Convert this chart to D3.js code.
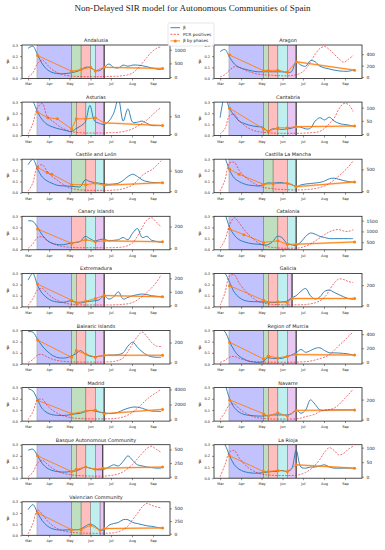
<!DOCTYPE html>
<html>
<head>
<meta charset="utf-8">
<script src="https://cdn.jsdelivr.net/npm/d3@7"></script>
<style>
  body { margin: 0; background: #fff; }
  svg { display: block; }
  text { font-family: "DejaVu Sans", sans-serif; fill: #222; }
</style>
</head>
<body>
<svg id="chart" width="385" height="550"></svg>
<script>
// weekly sample dates shared by every region
const dates = ["2020-03-01","2020-03-08","2020-03-15","2020-03-22","2020-03-29","2020-04-05","2020-04-12",
  "2020-04-19","2020-04-26","2020-05-03","2020-05-10","2020-05-17","2020-05-24","2020-05-31","2020-06-07",
  "2020-06-14","2020-06-21","2020-06-28","2020-07-05","2020-07-12","2020-07-19","2020-07-26","2020-08-02",
  "2020-08-09","2020-08-16","2020-08-23","2020-08-30","2020-09-06","2020-09-13"];

const alarmStart = "2020-03-14";
// phase starts: [phase 0 (green), phase 1 (red), phase 2 (cyan), phase 3 (purple), end of alarm]

// Andalusia
const beta_andalusia = [0.27,0.29,0.21,0.13,0.08,0.055,0.045,0.042,0.045,0.05,0.06,0.075,0.1,0.1,0.075,0.07,0.1,0.13,0.1,0.095,0.12,0.11,0.12,0.12,0.115,0.105,0.095,0.085,0.08];
const pcr_andalusia = [0,150,500,620,450,280,170,100,60,35,20,15,10,10,10,10,15,20,25,30,50,80,150,300,500,720,920,1050,1120];
const phases_andalusia = ["2020-05-04","2020-05-18","2020-06-01","2020-06-08","2020-06-21"];
const byPhase_andalusia = [["2020-03-15",0.206],["2020-05-04",0.065],["2020-05-18",0.08],["2020-06-01",0.1],["2020-06-08",0.067],["2020-06-21",0.1],["2020-09-15",0.09]];
const ticks_andalusia = [0,500,1000];

// Aragon
const beta_aragon = [0.24,0.26,0.19,0.13,0.1,0.085,0.075,0.065,0.06,0.06,0.06,0.06,0.06,0.06,0.055,0.06,0.15,0.12,0.11,0.16,0.15,0.11,0.095,0.085,0.075,0.068,0.065,0.065,0.075];
const pcr_aragon = [0,40,120,180,170,130,95,70,50,40,35,30,25,20,20,25,40,70,140,260,400,500,535,480,400,320,260,310,380];
const phases_aragon = ["2020-05-04","2020-05-11","2020-05-25","2020-06-08","2020-06-21"];
const byPhase_aragon = [["2020-03-15",0.21],["2020-05-04",0.07],["2020-05-11",0.072],["2020-05-25",0.075],["2020-06-08",0.055],["2020-06-21",0.15],["2020-09-15",0.075]];
const ticks_aragon = [0,200,400];

// Asturias
const beta_asturias = [0.36,0.31,0.21,0.14,0.1,0.08,0.065,0.055,0.045,0.035,0.06,0.085,0.12,0.27,0.13,0.11,0.1,0.13,0.2,0.33,0.13,0.24,0.12,0.12,0.13,0.11,0.09,0.09,0.09];
const pcr_asturias = [0,30,75,86,50,38,28,18,12,7,5,4,3,3,3,3,3,4,4,5,7,10,15,22,30,40,52,65,75];
const phases_asturias = ["2020-05-04","2020-05-11","2020-05-25","2020-06-08","2020-06-21"];
const byPhase_asturias = [["2020-03-15",0.21],["2020-03-30",0.16],["2020-04-13",0.15],["2020-05-04",0.06],["2020-05-11",0.15],["2020-05-25",0.15],["2020-06-08",0.16],["2020-06-21",0.114],["2020-09-15",0.09]];
const ticks_asturias = [0,50];

// Cantabria
const beta_cantabria = [0.16,0.35,0.24,0.18,0.13,0.11,0.095,0.085,0.08,0.075,0.04,0.06,0.06,0.055,0.06,0.065,0.08,0.075,0.06,0.065,0.13,0.16,0.14,0.165,0.13,0.11,0.1,0.095,0.085];
const pcr_cantabria = [0,20,70,75,50,35,22,14,9,7,5,4,3,3,3,3,3,3,4,5,6,10,22,40,60,95,115,112,85];
const phases_cantabria = ["2020-05-04","2020-05-11","2020-05-25","2020-06-08","2020-06-21"];
const byPhase_cantabria = [["2020-03-15",0.245],["2020-05-04",0.06],["2020-05-11",0.04],["2020-05-25",0.07],["2020-06-08",0.07],["2020-06-21",0.08],["2020-09-15",0.085]];
const ticks_cantabria = [0,50,100];

// Castile and León
const beta_cyl = [0.25,0.3,0.21,0.14,0.105,0.085,0.068,0.062,0.06,0.057,0.054,0.054,0.115,0.1,0.09,0.085,0.078,0.075,0.078,0.085,0.11,0.145,0.165,0.145,0.115,0.1,0.092,0.09,0.09];
const pcr_cyl = [0,200,600,640,480,360,280,190,120,70,45,30,25,20,20,20,20,20,25,35,60,100,150,260,380,460,520,620,740];
const phases_cyl = ["2020-05-04","2020-05-25","2020-06-08",null,"2020-06-21"];
const byPhase_cyl = [["2020-03-15",0.225],["2020-03-29",0.18],["2020-04-05",0.165],["2020-05-04",0.072],["2020-05-25",0.072],["2020-06-08",0.084],["2020-06-21",0.066],["2020-09-15",0.09]];
const ticks_cyl = [0,500];

// Castilla La Mancha
const beta_clm = [0.36,0.31,0.2,0.13,0.1,0.08,0.068,0.064,0.06,0.07,0.088,0.085,0.09,0.09,0.082,0.075,0.055,0.07,0.078,0.082,0.087,0.092,0.105,0.125,0.13,0.12,0.108,0.1,0.095];
const pcr_clm = [0,250,650,660,480,350,260,190,130,90,70,55,45,40,35,30,30,30,35,45,60,85,120,180,260,350,450,560,700];
const phases_clm = ["2020-05-04","2020-05-18","2020-06-08",null,"2020-06-21"];
const byPhase_clm = [["2020-03-15",0.21],["2020-03-29",0.165],["2020-05-04",0.075],["2020-05-18",0.081],["2020-06-08",0.084],["2020-06-21",0.054],["2020-09-15",0.096]];
const ticks_clm = [0,500];

// Canary Islands
const beta_canary = [0.26,0.255,0.2,0.13,0.085,0.06,0.048,0.045,0.05,0.06,0.066,0.075,0.12,0.1,0.08,0.09,0.095,0.08,0.085,0.09,0.11,0.09,0.15,0.19,0.11,0.12,0.085,0.075,0.065];
const pcr_canary = [0,40,100,105,70,45,30,18,12,8,6,5,5,5,5,5,5,5,6,8,12,25,50,110,190,260,280,240,195];
const phases_canary = [null,"2020-05-04","2020-05-25","2020-06-08","2020-06-21"];
const byPhase_canary = [["2020-03-15",0.186],["2020-05-04",0.057],["2020-05-25",0.09],["2020-06-08",0.072],["2020-06-21",0.08],["2020-09-15",0.072]];
const ticks_canary = [0,200];

// Catalonia
const beta_catalonia = [0.38,0.32,0.2,0.13,0.09,0.072,0.06,0.053,0.05,0.045,0.045,0.07,0.12,0.11,0.06,0.045,0.04,0.07,0.12,0.15,0.14,0.12,0.11,0.1,0.1,0.1,0.1,0.1,0.1];
const pcr_catalonia = [230,600,1300,1630,1400,1100,850,650,480,380,300,260,240,225,220,220,225,250,320,420,560,700,850,980,1060,1090,1020,1000,1080];
const phases_catalonia = ["2020-05-04","2020-05-25","2020-06-08",null,"2020-06-21"];
const byPhase_catalonia = [["2020-03-15",0.186],["2020-04-05",0.135],["2020-05-04",0.066],["2020-05-25",0.08],["2020-06-08",0.05],["2020-06-21",0.05],["2020-09-15",0.07]];
const ticks_catalonia = [500,1000,1500];

// Extremadura
const beta_extremadura = [0.24,0.3,0.19,0.12,0.08,0.055,0.045,0.04,0.045,0.055,0.04,0.035,0.045,0.05,0.055,0.065,0.1,0.07,0.09,0.135,0.07,0.085,0.1,0.11,0.115,0.11,0.1,0.095,0.09];
const pcr_extremadura = [0,50,115,125,90,60,40,25,15,8,5,4,3,3,3,3,3,3,4,5,8,12,22,40,65,95,130,170,225];
const phases_extremadura = ["2020-05-04","2020-05-11","2020-05-25","2020-06-08","2020-06-21"];
const byPhase_extremadura = [["2020-03-15",0.204],["2020-05-04",0.06],["2020-05-11",0.039],["2020-05-25",0.051],["2020-06-08",0.075],["2020-06-21",0.102],["2020-09-15",0.09]];
const ticks_extremadura = [0,100,200];

// Galicia
const beta_galicia = [0.31,0.3,0.22,0.13,0.085,0.06,0.05,0.047,0.046,0.045,0.043,0.04,0.04,0.045,0.05,0.08,0.1,0.14,0.165,0.1,0.07,0.09,0.14,0.15,0.13,0.11,0.09,0.075,0.068];
const pcr_galicia = [0,120,290,300,220,160,110,70,40,25,15,10,8,6,5,5,5,6,8,15,25,45,80,150,220,260,255,235,225];
const phases_galicia = ["2020-05-04","2020-05-11","2020-05-25","2020-06-08","2020-06-15"];
const byPhase_galicia = [["2020-03-15",0.19],["2020-05-04",0.06],["2020-05-11",0.042],["2020-05-25",0.045],["2020-06-08",0.04],["2020-06-15",0.075],["2020-09-15",0.075]];
const ticks_galicia = [0,200];

// Balearic Islands
const beta_balearic = [0.29,0.285,0.22,0.16,0.115,0.08,0.06,0.053,0.055,0.07,0.09,0.12,0.09,0.07,0.065,0.07,0.075,0.08,0.08,0.085,0.1,0.16,0.195,0.15,0.11,0.08,0.065,0.06,0.06];
const pcr_balearic = [0,30,75,80,55,35,22,14,9,6,5,4,4,4,4,4,5,6,10,20,45,110,190,260,305,260,200,165,160];
const phases_balearic = ["2020-05-04","2020-05-11","2020-05-25","2020-06-08","2020-06-21"];
const byPhase_balearic = [["2020-03-15",0.215],["2020-05-04",0.06],["2020-05-11",0.12],["2020-05-25",0.09],["2020-06-08",0.06],["2020-06-21",0.078],["2020-09-15",0.078]];
const ticks_balearic = [0,200];

// Region of Murcia
const beta_murcia = [0.32,0.29,0.2,0.12,0.07,0.045,0.025,0.018,0.015,0.02,0.055,0.05,0.05,0.05,0.065,0.08,0.1,0.13,0.105,0.12,0.14,0.145,0.12,0.1,0.1,0.098,0.095,0.09,0.08];
const pcr_murcia = [0,30,75,85,60,38,22,12,8,5,4,3,3,3,3,3,5,8,12,20,35,55,75,110,170,240,300,370,430];
const phases_murcia = ["2020-05-04","2020-05-11","2020-05-25","2020-06-08","2020-06-21"];
const byPhase_murcia = [["2020-03-15",0.195],["2020-05-04",0.045],["2020-05-11",0.072],["2020-05-25",0.054],["2020-06-08",0.07],["2020-06-21",0.084],["2020-09-15",0.08]];
const ticks_murcia = [0,200,400];

// Madrid
const beta_madrid = [0.29,0.27,0.19,0.11,0.075,0.058,0.052,0.05,0.052,0.058,0.065,0.07,0.085,0.095,0.09,0.08,0.075,0.068,0.07,0.08,0.1,0.115,0.125,0.125,0.115,0.1,0.09,0.088,0.085];
const pcr_madrid = [0,1000,2600,2700,1900,1300,900,600,400,250,180,140,120,100,90,90,90,100,130,200,350,600,1000,1500,2100,2700,3200,3600,4050];
const phases_madrid = ["2020-05-04","2020-05-25","2020-06-08",null,"2020-06-21"];
const byPhase_madrid = [["2020-03-15",0.186],["2020-05-04",0.066],["2020-05-25",0.09],["2020-06-08",0.1],["2020-06-21",0.066],["2020-09-15",0.105]];
const ticks_madrid = [0,2000,4000];

// Navarre
const beta_navarre = [0.4,0.33,0.2,0.12,0.08,0.06,0.052,0.048,0.045,0.045,0.05,0.055,0.055,0.055,0.055,0.065,0.1,0.07,0.1,0.19,0.15,0.1,0.095,0.1,0.1,0.1,0.1,0.1,0.1];
const pcr_navarre = [0,70,150,155,110,75,50,30,18,12,8,6,5,5,5,6,8,15,30,40,55,80,95,100,115,150,200,250,305];
const phases_navarre = ["2020-05-04","2020-05-11","2020-05-25","2020-06-08","2020-06-21"];
const byPhase_navarre = [["2020-03-15",0.19],["2020-05-04",0.066],["2020-05-11",0.045],["2020-05-25",0.075],["2020-06-08",0.045],["2020-06-21",0.096],["2020-09-15",0.1]];
const ticks_navarre = [0,200];

// Basque Autonomous Community
const beta_basque = [0.25,0.26,0.2,0.13,0.09,0.07,0.06,0.055,0.055,0.06,0.065,0.08,0.1,0.09,0.08,0.075,0.08,0.1,0.12,0.11,0.15,0.2,0.16,0.12,0.11,0.1,0.095,0.09,0.09];
const pcr_basque = [0,80,250,300,230,160,110,75,50,35,25,20,15,12,10,10,12,18,30,50,90,150,230,330,430,520,560,500,450];
const phases_basque = ["2020-05-04","2020-05-11","2020-05-25","2020-06-08","2020-06-19"];
const byPhase_basque = [["2020-03-15",0.2],["2020-05-04",0.06],["2020-05-11",0.08],["2020-05-25",0.1],["2020-06-08",0.08],["2020-06-19",0.09],["2020-09-15",0.1]];
const ticks_basque = [0,250,500];

// La Rioja
const beta_rioja = [0.34,0.3,0.2,0.12,0.08,0.06,0.05,0.045,0.045,0.05,0.055,0.06,0.06,0.07,0.06,0.08,0.25,0.1,0.09,0.1,0.1,0.11,0.12,0.1,0.09,0.09,0.09,0.09,0.09];
const pcr_rioja = [0,40,85,90,65,45,30,20,12,8,6,5,4,4,4,4,5,8,15,25,40,60,85,100,90,75,80,95,105];
const phases_rioja = ["2020-05-04","2020-05-11","2020-05-25","2020-06-08","2020-06-21"];
const byPhase_rioja = [["2020-03-15",0.2],["2020-05-04",0.06],["2020-05-11",0.06],["2020-05-25",0.07],["2020-06-08",0.06],["2020-06-21",0.12],["2020-09-15",0.09]];
const ticks_rioja = [0,50,100];

// Valencian Community
const beta_valencia = [0.23,0.275,0.2,0.13,0.085,0.06,0.05,0.047,0.048,0.05,0.05,0.055,0.08,0.1,0.085,0.05,0.05,0.09,0.105,0.115,0.14,0.14,0.115,0.105,0.095,0.085,0.08,0.072,0.065];
const pcr_valencia = [0,200,470,380,260,170,110,70,45,30,20,15,12,10,10,10,10,12,20,40,80,150,280,400,530,600,560,530,510];
const phases_valencia = ["2020-05-04","2020-05-18","2020-06-01","2020-06-15","2020-06-21"];
const byPhase_valencia = [["2020-03-15",0.2],["2020-05-04",0.05],["2020-05-18",0.05],["2020-06-01",0.09],["2020-06-15",0.045],["2020-06-21",0.06],["2020-09-15",0.066]];
const ticks_valencia = [0,250,500];

const regions = [
  ["Andalusia", beta_andalusia, pcr_andalusia, phases_andalusia, byPhase_andalusia, ticks_andalusia],
  ["Aragon", beta_aragon, pcr_aragon, phases_aragon, byPhase_aragon, ticks_aragon],
  ["Asturias", beta_asturias, pcr_asturias, phases_asturias, byPhase_asturias, ticks_asturias],
  ["Cantabria", beta_cantabria, pcr_cantabria, phases_cantabria, byPhase_cantabria, ticks_cantabria],
  ["Castile and León", beta_cyl, pcr_cyl, phases_cyl, byPhase_cyl, ticks_cyl],
  ["Castilla La Mancha", beta_clm, pcr_clm, phases_clm, byPhase_clm, ticks_clm],
  ["Canary Islands", beta_canary, pcr_canary, phases_canary, byPhase_canary, ticks_canary],
  ["Catalonia", beta_catalonia, pcr_catalonia, phases_catalonia, byPhase_catalonia, ticks_catalonia],
  ["Extremadura", beta_extremadura, pcr_extremadura, phases_extremadura, byPhase_extremadura, ticks_extremadura],
  ["Galicia", beta_galicia, pcr_galicia, phases_galicia, byPhase_galicia, ticks_galicia],
  ["Balearic Islands", beta_balearic, pcr_balearic, phases_balearic, byPhase_balearic, ticks_balearic],
  ["Region of Murcia", beta_murcia, pcr_murcia, phases_murcia, byPhase_murcia, ticks_murcia],
  ["Madrid", beta_madrid, pcr_madrid, phases_madrid, byPhase_madrid, ticks_madrid],
  ["Navarre", beta_navarre, pcr_navarre, phases_navarre, byPhase_navarre, ticks_navarre],
  ["Basque Autonomous Community", beta_basque, pcr_basque, phases_basque, byPhase_basque, ticks_basque],
  ["La Rioja", beta_rioja, pcr_rioja, phases_rioja, byPhase_rioja, ticks_rioja],
  ["Valencian Community", beta_valencia, pcr_valencia, phases_valencia, byPhase_valencia, ticks_valencia]
];

const betaTicks = [0, 0.1, 0.2, 0.3];
const legendLabels = ["β", "PCR positives", "β by phases"];

// layout
const W = 148, H = 33.5;
const colX = [22, 214];
const rowTop = 45, rowStep = 57.1;
const alarmColor = "rgba(0,0,255,0.24)";
const phaseColors = ["rgba(0,128,0,0.25)", "rgba(255,0,0,0.25)", "rgba(0,190,190,0.25)", "rgba(150,0,200,0.22)"];
const blue = "#1f77b4", orange = "#ff7f0e", red = "#e8202a";

const parse = d3.timeParse("%Y-%m-%d");
const dateObjs = dates.map(parse);

const svg = d3.select("#chart");

svg.append("text")
  .attr("x", 192.5).attr("y", 11)
  .attr("text-anchor", "middle")
  .style("font-family", "'Liberation Serif', serif")
  .style("font-size", "9px")
  .attr("textLength", 236)
  .text("Non-Delayed SIR model for Autonomous Communities of Spain");

const x = d3.scaleTime().domain([parse("2020-02-21"), parse("2020-09-26")]).range([0, W]);
const y = d3.scaleLinear().domain([0, 0.3]).range([H, 0]);

regions.forEach((reg, i) => {
  const [name, beta, pcr, phases, byPhase, rTicks] = reg;
  const gx = colX[i % 2], gy = rowTop + Math.floor(i / 2) * rowStep;
  const g = svg.append("g").attr("transform", `translate(${gx},${gy})`);

  const ext = d3.extent(pcr), pad = (ext[1] - ext[0]) * 0.05;
  const y2 = d3.scaleLinear().domain([ext[0] - pad, ext[1] + pad]).range([H, 0]);

  g.append("clipPath").attr("id", "clip" + i)
    .append("rect").attr("width", W).attr("height", H);
  const plot = g.append("g").attr("clip-path", `url(#clip${i})`);

  // phase spans
  const bounds = [];
  const firstPhase = phases.slice(0, 4).find(d => d);
  bounds.push({ a: alarmStart, b: firstPhase, c: alarmColor });
  for (let k = 0; k < 4; k++) {
    if (!phases[k]) continue;
    const next = phases.slice(k + 1).find(d => d);
    bounds.push({ a: phases[k], b: next, c: phaseColors[k] });
  }
  plot.selectAll("rect.span").data(bounds).join("rect")
    .attr("class", "span")
    .attr("x", d => x(parse(d.a)))
    .attr("width", d => x(parse(d.b)) - x(parse(d.a)))
    .attr("y", 0).attr("height", H)
    .attr("fill", d => d.c)
    .attr("stroke", "rgba(60,60,60,0.45)")
    .attr("stroke-width", 0.5);

  // end of alarm line
  const endX = x(parse(phases[4]));
  plot.append("line").attr("x1", endX).attr("x2", endX).attr("y1", 0).attr("y2", H)
    .attr("stroke", "#222").attr("stroke-width", 1);

  // beta curve
  const lineB = d3.line().x((d, j) => x(dateObjs[j])).y(d => y(d)).curve(d3.curveCatmullRom.alpha(0.5));
  plot.append("path").attr("d", lineB(beta))
    .attr("fill", "none").attr("stroke", blue).attr("stroke-width", 0.9);

  // beta by phases
  const pts = byPhase.map(d => [x(parse(d[0])), y(d[1])]);
  const last = pts.slice(-2);
  plot.append("path").attr("d", d3.line()(last))
    .attr("fill", "none").attr("stroke", orange).attr("stroke-opacity", 0.35).attr("stroke-width", 2);
  plot.append("path").attr("d", d3.line()(pts))
    .attr("fill", "none").attr("stroke", orange).attr("stroke-width", 0.9);
  plot.selectAll("circle").data(pts).join("circle")
    .attr("cx", d => d[0]).attr("cy", d => d[1]).attr("r", 1.5).attr("fill", orange);

  // PCR positives on right axis
  const lineP = d3.line().x((d, j) => x(dateObjs[j])).y(d => y2(d)).curve(d3.curveCatmullRom.alpha(0.5));
  plot.append("path").attr("d", lineP(pcr))
    .attr("fill", "none").attr("stroke", red).attr("stroke-opacity", 0.8)
    .attr("stroke-width", 0.8).attr("stroke-dasharray", "2,1.3");

  // frame
  g.append("rect").attr("width", W).attr("height", H)
    .attr("fill", "none").attr("stroke", "#222").attr("stroke-width", 0.8);

  // axes
  const ax = g.append("g").attr("transform", `translate(0,${H})`)
    .call(d3.axisBottom(x).ticks(d3.timeMonth.every(1)).tickFormat(d3.timeFormat("%b")).tickSize(2).tickPadding(2.5));
  ax.selectAll("text").style("font-size", "3.5px");
  const ay = g.append("g")
    .call(d3.axisLeft(y).tickValues(betaTicks).tickFormat(d3.format(".1f")).tickSize(2).tickPadding(2));
  ay.selectAll("text").style("font-size", "3.5px");
  const ar = g.append("g").attr("transform", `translate(${W},0)`)
    .call(d3.axisRight(y2).tickValues(rTicks).tickFormat(d3.format("d")).tickSize(2).tickPadding(2.5));
  ar.selectAll("text").style("font-size", "4.4px");
  [ax, ay, ar].forEach(a => {
    a.select(".domain").remove();
    a.selectAll("line").attr("stroke", "#222").attr("stroke-width", 0.5);
    a.selectAll("text").attr("fill", "#222").style("font-family", "'DejaVu Sans', sans-serif");
  });

  g.append("text").attr("x", -14).attr("y", H / 2 + 1.5)
    .attr("text-anchor", "middle").style("font-size", "4.6px").text("β");

  g.append("text").attr("x", W / 2).attr("y", -3)
    .attr("text-anchor", "middle").style("font-size", "4.9px").text(name);
});

// legend
const lg = svg.append("g").attr("transform", "translate(168,23)");
lg.append("rect").attr("width", 46).attr("height", 23).attr("rx", 1)
  .attr("fill", "#fff").attr("fill-opacity", 0.85).attr("stroke", "#ccc").attr("stroke-width", 0.5);
legendLabels.forEach((lab, k) => {
  const ly = 4.7 + k * 6.6;
  const row = lg.append("g").attr("transform", `translate(0,${ly})`);
  const ln = row.append("line").attr("x1", 2.5).attr("x2", 12).attr("stroke-width", 0.9);
  if (k === 0) ln.attr("stroke", blue);
  if (k === 1) ln.attr("stroke", red).attr("stroke-opacity", 0.8).attr("stroke-dasharray", "2,1.3");
  if (k === 2) {
    ln.attr("stroke", orange);
    row.append("circle").attr("cx", 7.25).attr("r", 1.5).attr("fill", orange);
  }
  row.append("text").attr("x", 15).attr("y", 1.5).style("font-size", "4.2px").text(lab);
});
</script>
</body>
</html>
